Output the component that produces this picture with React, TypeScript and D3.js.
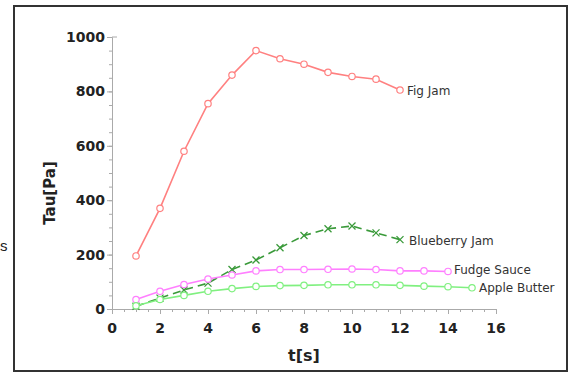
import * as d3 from 'd3';
import React, { useEffect, useRef } from 'react';

// values
const figT = [1, 2, 3, 4, 5, 6, 7, 8, 9, 10, 11, 12];
const figJam = [195, 370, 580, 755, 860, 950, 920, 900, 870, 855, 845, 805];
const blueT = [1, 2, 3, 4, 5, 6, 7, 8, 9, 10, 11, 12];
const blueberryJam = [10, 40, 70, 95, 145, 180, 225, 270, 295, 305, 280, 255];
const fudgeT = [1, 2, 3, 4, 5, 6, 7, 8, 9, 10, 11, 12, 13, 14];
const fudgeSauce = [35, 65, 90, 110, 125, 140, 145, 145, 146, 147, 145, 140, 140, 138];
const appleT = [1, 2, 3, 4, 5, 6, 7, 8, 9, 10, 11, 12, 13, 14, 15];
const appleButter = [12, 35, 50, 65, 75, 83, 86, 87, 89, 89, 89, 87, 84, 82, 78];
const xTicks = [0, 2, 4, 6, 8, 10, 12, 14, 16];
const yTicks = [0, 200, 400, 600, 800, 1000];

const series = [
    { name: 'Fig Jam', t: figT, v: figJam, color: '#ff8080', marker: 'o', dash: '', lx: 407, ly: 91 },
    { name: 'Blueberry Jam', t: blueT, v: blueberryJam, color: '#3a9a3a', marker: 'x', dash: '8,5', lx: 409, ly: 241 },
    { name: 'Fudge Sauce', t: fudgeT, v: fudgeSauce, color: '#ff7fff', marker: 'o', dash: '', lx: 454, ly: 270 },
    { name: 'Apple Butter', t: appleT, v: appleButter, color: '#80f080', marker: 'o', dash: '', lx: 479, ly: 288 },
];

export default () => {
    const ref = useRef<any>();

    useEffect(() => {
        const svg = d3.select<any, any>(ref.current);
        svg.selectAll('*').remove();

        const x = d3.scaleLinear().domain([0, 16]).range([112, 496]);
        const y = d3.scaleLinear().domain([0, 1000]).range([309, 37]);
        const font = 'DejaVu Sans, Verdana, sans-serif';

        // frame
        svg.append('rect').attr('x', 14).attr('y', 6).attr('width', 553).attr('height', 365)
            .attr('fill', 'none').attr('stroke', '#333').attr('stroke-width', 2);
        svg.append('text').attr('x', 0).attr('y', 251).attr('font-size', 15)
            .attr('font-family', 'Liberation Sans, Arial, sans-serif').attr('fill', '#222').text('s');

        const axisColor = '#aaa';
        // minor + major ticks
        const gx = svg.append('g').attr('transform', 'translate(0,309)');
        gx.call(d3.axisBottom(x).ticks(32).tickSize(3).tickFormat(() => ''));
        gx.append('g').call(d3.axisBottom(x).tickValues(xTicks).tickSize(5).tickFormat(() => ''));
        gx.selectAll('path, line').attr('stroke', axisColor);

        const gy = svg.append('g').attr('transform', 'translate(112,0)');
        gy.call(d3.axisLeft(y).ticks(20).tickSize(3).tickSizeOuter(0).tickFormat(() => ''));
        gy.append('g').call(d3.axisLeft(y).tickValues(yTicks).tickSize(5).tickSizeOuter(0).tickFormat(() => ''));
        gy.selectAll('path, line').attr('stroke', axisColor);
        svg.append('line').attr('x1', 112).attr('x2', 117).attr('y1', 37).attr('y2', 37).attr('stroke', axisColor);

        svg.append('g').selectAll('text').data(xTicks).join('text')
            .attr('x', d => x(d)).attr('y', 333).attr('text-anchor', 'middle')
            .attr('font-family', font).attr('font-weight', 'bold').attr('font-size', 14).attr('fill', '#222')
            .text(d => d);
        svg.append('g').selectAll('text').data(yTicks).join('text')
            .attr('x', 105).attr('y', d => y(d) + 5).attr('text-anchor', 'end')
            .attr('font-family', font).attr('font-weight', 'bold').attr('font-size', 14).attr('fill', '#222')
            .text(d => d);

        svg.append('text').attr('x', 304).attr('y', 361).attr('text-anchor', 'middle')
            .attr('font-family', font).attr('font-weight', 'bold').attr('font-size', 16).attr('fill', '#222')
            .text('t[s]');
        svg.append('text').attr('transform', 'translate(55,193) rotate(-90)').attr('text-anchor', 'middle')
            .attr('font-family', font).attr('font-weight', 'bold').attr('font-size', 15).attr('fill', '#222')
            .text('Tau[Pa]');

        series.forEach(s => {
            const pts = s.t.map((t, i) => [t, s.v[i]] as [number, number]);
            const line = d3.line<[number, number]>().x(d => x(d[0])).y(d => y(d[1]));
            const g = svg.append('g');
            g.append('path').attr('d', line(pts)).attr('fill', 'none').attr('stroke', s.color)
                .attr('stroke-width', 1.6).attr('stroke-dasharray', s.dash || null);
            if (s.marker === 'o') {
                g.selectAll('circle').data(pts).join('circle')
                    .attr('cx', d => x(d[0])).attr('cy', d => y(d[1])).attr('r', 3.2)
                    .attr('fill', 'white').attr('stroke', s.color).attr('stroke-width', 1.2);
            } else {
                g.selectAll('path.m').data(pts).join('path').attr('class', 'm')
                    .attr('d', d => {
                        const cx = x(d[0]), cy = y(d[1]);
                        return `M${cx - 3.5},${cy - 3.5}L${cx + 3.5},${cy + 3.5}M${cx - 3.5},${cy + 3.5}L${cx + 3.5},${cy - 3.5}`;
                    })
                    .attr('stroke', s.color).attr('stroke-width', 1.3);
            }
            g.append('text').attr('x', s.lx).attr('y', s.ly + 4).attr('font-family', font)
                .attr('font-size', 12).attr('fill', '#333').text(s.name);
        });
    });

    return (
        <svg ref={ref} width={570} height={373} style={{ position: 'absolute', left: 0, top: 0 }} />
    );
};
